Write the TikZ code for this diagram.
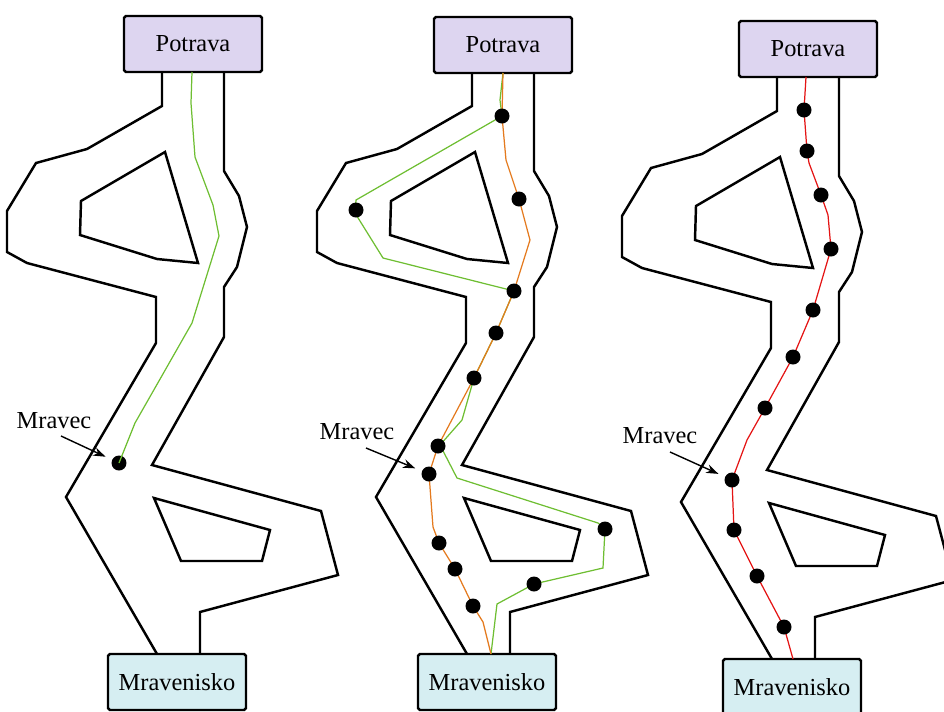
\documentclass[tikz,border=0pt]{standalone}
\usepackage{fontspec}
\setmainfont{Liberation Serif}
\usetikzlibrary{arrows.meta}

\definecolor{foodfill}{RGB}{221,213,240}
\definecolor{nestfill}{RGB}{214,238,242}
\definecolor{trailgreen}{RGB}{110,190,50}
\definecolor{trailorange}{RGB}{228,122,30}
\definecolor{trailred}{RGB}{228,20,20}

% corridor walls and the two obstacles, drawn in the current scope
\newcommand{\corridor}{%
  \draw[wall] (162,72) -- (162,106) -- (87,149) -- (36,163) -- (7,211) -- (7,252)
    -- (27,263) -- (156,297) -- (156,343) -- (66,497) -- (157,654);
  \draw[wall] (224,72) -- (224,171) -- (239,196) -- (247,227) -- (237,267) -- (224,287)
    -- (224,337) -- (152,465) -- (321,511) -- (338,575) -- (200,612) -- (200,654);
  \draw[wall] (165,152) -- (81,201) -- (80,235) -- (157,259) -- (198,263) -- cycle;
  \draw[wall] (154,498) -- (270,530) -- (262,561) -- (181,561) -- cycle;
}

\begin{document}
\begin{tikzpicture}[x=0.02cm, y=-0.02cm,
    wall/.style={line width=1.4pt},
    foodbox/.style={draw, line width=1.4pt, fill=foodfill, rounded corners=1pt,
      minimum width=2.76cm, minimum height=1.12cm, inner sep=0pt},
    nestbox/.style={foodbox, fill=nestfill},
    ant/.style={circle, fill=black, minimum size=0.3cm, inner sep=0pt},
    trail/.style={line width=0.7pt},
    pointer/.style={-{Stealth[length=7pt, width=5pt]}, line width=0.8pt, shorten >=4pt},
    every node/.style={font=\fontsize{13.9}{16}\selectfont}]
    \useasboundingbox (0,0) rectangle (944,711);
    \clip (0,0) rectangle (944,711);

    % Corridors
    \corridor
    \begin{scope}[shift={(310,0)}]
        \corridor
    \end{scope}
    \begin{scope}[shift={(615,5)}]
        \corridor
    \end{scope}

    % Food and nest
    \node[foodbox] (potrava1) at (193,44) {Potrava};
    \node[nestbox] (mravenisko1) at (177,682) {Mravenisko};
    \node[foodbox] (potrava2) at (503,45) {Potrava};
    \node[nestbox] (mravenisko2) at (487,682) {Mravenisko};
    \node[foodbox] (potrava3) at (808,49) {Potrava};
    \node[nestbox] (mravenisko3) at (792,687) {Mravenisko};

    % First ant and its trail
    \node[ant] (ant1) at (119,463) {};
    \draw[trail, trailgreen] (192,72) -- (191,103) -- (195,157) -- (213,205) -- (219,236)
        -- (192,323) -- (135,423) -- (ant1.center);

    % Two trails around the obstacles
    \draw[trail, trailgreen] (503,73) -- (500,100) -- (502,116) -- (356,200) -- (355,213)
        -- (383,258) -- (514,291) -- (496,333) -- (474,378) -- (462,420) -- (440,445)
        -- (457,478) -- (598,523) -- (605,529) -- (603,568) -- (534,584) -- (497,604) -- (491,654);
    \draw[trail, trailorange] (503,73) -- (502,116) -- (506,160) -- (519,199) -- (530,240)
        -- (514,291) -- (496,333) -- (474,378) -- (438,446) -- (429,474) -- (433,527)
        -- (439,543) -- (455,569) -- (473,606) -- (483,622) -- (491,654);
    \foreach \name/\pos in {a1/{(502,116)}, a2/{(356,210)}, a3/{(519,199)}, a4/{(514,291)},
        a5/{(496,333)}, a6/{(474,378)}, a7/{(438,446)}, a8/{(429,474)}, a9/{(439,543)},
        a10/{(455,569)}, a11/{(473,606)}, a12/{(605,529)}, a13/{(534,584)}}
        \node[ant] (\name) at \pos {};

    % Shortest trail
    \draw[trail, trailred] (806,77) -- (804,110) -- (807,151) -- (809,163) -- (821,195)
        -- (828,215) -- (831,249) -- (813,310) -- (793,357) -- (765,408) -- (747,440)
        -- (732,480) -- (734,530) -- (757,576) -- (784,627) -- (793,659);
    \foreach \name/\pos in {b1/{(804,110)}, b2/{(807,151)}, b3/{(821,195)}, b4/{(831,249)},
        b5/{(813,310)}, b6/{(793,357)}, b7/{(765,408)}, b8/{(732,480)}, b9/{(734,530)},
        b10/{(757,576)}, b11/{(784,627)}}
        \node[ant] (\name) at \pos {};

    % Labels
    \node (mravec1) at (54,421) {Mravec};
    \node (mravec2) at (357,432) {Mravec};
    \node (mravec3) at (660,436) {Mravec};
    \coordinate (tail1) at (61,436);
    \coordinate (tail2) at (366,448);
    \coordinate (tail3) at (670,452);
    \draw[pointer] (tail1) -- (ant1);
    \draw[pointer] (tail2) -- (a8);
    \draw[pointer] (tail3) -- (b8);
\end{tikzpicture}
\end{document}
